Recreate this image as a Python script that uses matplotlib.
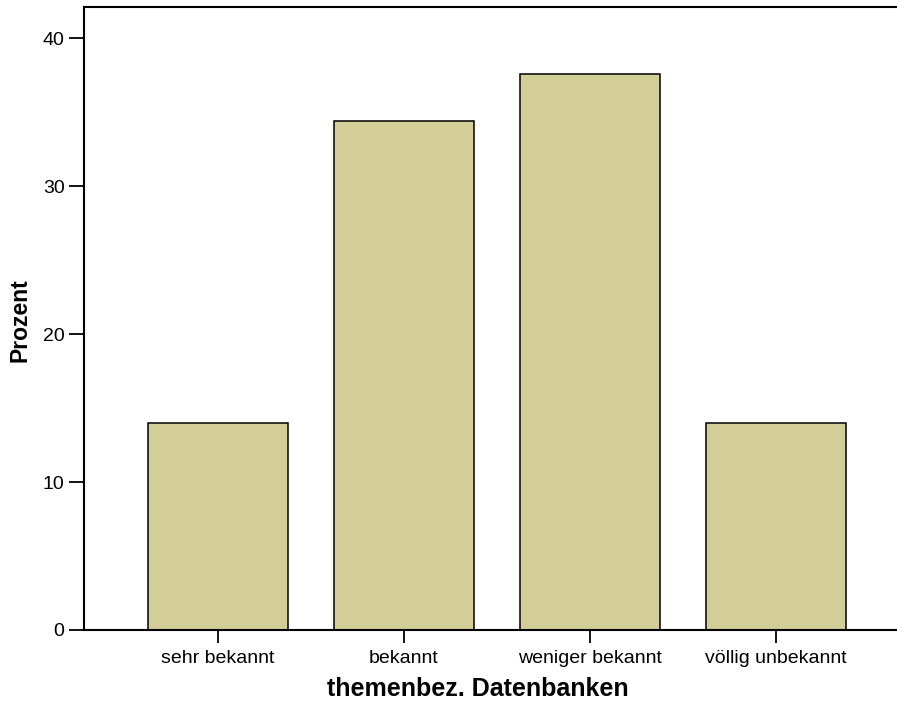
import matplotlib.pyplot as plt

# Daten
kategorien = ["sehr bekannt", "bekannt", "weniger bekannt", "völlig unbekannt"]
prozent = [14.0, 34.4, 37.6, 14.0]
y_ticks = [0, 10, 20, 30, 40]

plt.rcParams['font.family'] = ['Liberation Sans', 'DejaVu Sans']

fig = plt.figure(figsize=(8.97, 7.03), dpi=100)
ax = fig.add_axes([84 / 897, 73 / 703, 1 - 84 / 897, 623 / 703])

pos = list(range(len(kategorien)))
ax.bar(pos, prozent, width=0.753, color='#D3CE97', edgecolor='black', linewidth=1.1)

ax.set_xlim(-0.72, 3.653)
ax.set_ylim(0, 42.1)
ax.set_xticks(pos)
ax.set_xticklabels(kategorien, fontsize=14)
ax.set_yticks(y_ticks)
ax.set_yticklabels([str(t) for t in y_ticks], fontsize=14)

ax.tick_params(axis='y', length=11, width=1.3, pad=3)
ax.tick_params(axis='x', length=9.5, width=1.3, pad=5)

for s in ['left', 'bottom', 'top']:
    ax.spines[s].set_linewidth(1.5)
ax.spines['right'].set_visible(False)

ax.set_xlabel("themenbez. Datenbanken", fontsize=18, fontweight='bold')
ax.xaxis.set_label_coords(0.484, -47 / 623)
ax.set_ylabel("Prozent", fontsize=16.5, fontweight='bold')
ax.yaxis.set_label_coords(-52 / 813, 0.498)

fig.savefig("out.png", dpi=100)
